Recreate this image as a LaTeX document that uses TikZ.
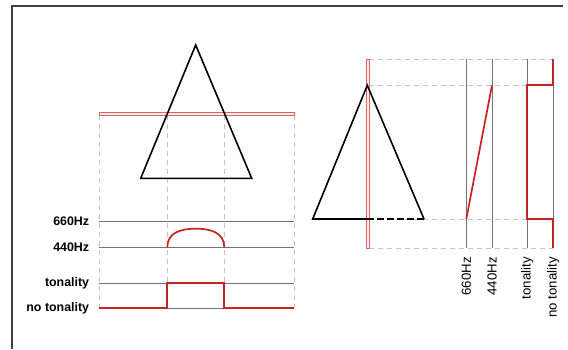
\documentclass[tikz,border=0pt]{standalone}
\usepackage{fontspec}
\setmainfont{Liberation Sans}
\definecolor{sigred}{RGB}{200,35,35}
\definecolor{gline}{RGB}{115,115,115}
\definecolor{dline}{RGB}{195,195,195}
\begin{document}
\begin{tikzpicture}[x=1pt,y=-1pt,
  frame/.style={draw=black!75,line width=1.4pt},
  tri/.style={draw=black,line width=1.6pt,line join=miter},
  level/.style={draw=gline,line width=0.6pt},
  guide/.style={draw=dline,line width=0.6pt,dash pattern=on 5pt off 4pt},
  sig/.style={draw=sigred,line width=1.7pt,solid,line join=miter},
  bar/.style={draw=sigred!70,line width=0.5pt,fill=sigred!10},
  lab/.style={font=\fontsize{12.4}{14}\selectfont\bfseries,anchor=east,inner sep=0pt},
  rlab/.style={font=\fontsize{13.2}{15}\selectfont,anchor=east,rotate=90,inner sep=0pt}]
\useasboundingbox (0,0) rectangle (568,349);
% frame (top and left)
\draw[frame] (12,349) -- (12,6) -- (563,6);

% ---------- left panel ----------
\coordinate (LA) at (195.7,45);
\coordinate (LB) at (140.7,178.3);
\coordinate (LC) at (251.7,178.3);
\foreach \x in {99.3,167.3,224.3,294.3}
  \draw[guide] (\x,115) -- (\x,308.3);
\draw[bar] (99.3,112.5) rectangle (294.3,115.5);
\draw[tri] (LA) -- (LB) -- (LC) -- cycle;
\coordinate (L660a) at (99.3,221); \coordinate (L660b) at (294.3,221);
\coordinate (L440a) at (99.3,247.3); \coordinate (L440b) at (294.3,247.3);
\coordinate (LTa) at (99.3,283.3); \coordinate (LTb) at (294.3,283.3);
\coordinate (LNa) at (99.3,308.3); \coordinate (LNb) at (294.3,308.3);
\draw[level] (L660a) -- (L660b);
\draw[level] (L440a) -- (L440b);
\draw[level] (LTa) -- (LTb);
\draw[level] (LNa) -- (LNb);
\node[lab] (t660) at (89.3,221) {660Hz};
\node[lab] (t440) at (89.3,247.3) {440Hz};
\node[lab] (tton) at (89.3,283.3) {tonality};
\node[lab] (tnot) at (89.3,308.3) {no tonality};

% ---------- right panel ----------
\coordinate (RA) at (367.3,85.3);
\coordinate (RB) at (312.7,219);
\coordinate (RC) at (424,219);
\coordinate (RM) at (367.8,219);
\foreach \y in {59.3,85.3,219,248.3}
  \draw[guide] (369.3,\y) -- (553.3,\y);
\foreach \x in {466.3,492,527.3,553.3}
  \draw[level] (\x,59.3) -- (\x,248.3);
\draw[bar] (366.3,59.3) rectangle (369.3,248.3);
\draw[tri] (RM) -- (RB) -- (RA) -- (RC);
\draw[draw=black,line width=1.6pt,dash pattern=on 7pt off 3pt] (RC) -- (RM);
\node[rlab] (r660) at (466.3,257) {660Hz};
\node[rlab] (r440) at (492,257) {440Hz};
\node[rlab] (rton) at (527.3,257) {tonality};
\node[rlab] (rnot) at (553.3,257) {no tonality};

% ---------- red signals (on top) ----------
\draw[sig] (167.3,247.3) .. controls (167.3,233) and (180,228.7) .. (195.8,228.7)
  .. controls (211.6,228.7) and (224.3,233) .. (224.3,247.3);
\draw[sig] (99.3,308.3) -- (167.3,308.3) -- (167.3,283.3) -- (224.3,283.3) -- (224.3,308.3) -- (294.3,308.3);
\draw[sig] (466.3,219) -- (492,85.3);
\draw[sig] (553.3,59.3) -- (553.3,85.3) -- (527.3,85.3) -- (527.3,219) -- (553.3,219) -- (553.3,248.3);
\end{tikzpicture}
\end{document}
